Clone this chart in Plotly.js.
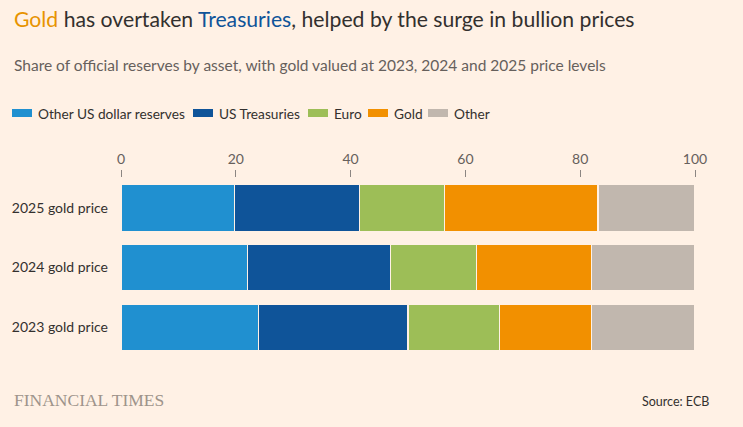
<!DOCTYPE html>
<html>
<head>
<meta charset="utf-8">
<script src="https://cdn.plot.ly/plotly-3.0.1.min.js"></script>
<style>
  html, body { margin: 0; padding: 0; background: #FFF1E5; }
  #chart { width: 743px; height: 427px; }
</style>
</head>
<body>
<div id="chart"></div>
<script>
// Share of official reserves by asset (%), gold valued at each year's price level
const categories = ['2025 gold price', '2024 gold price', '2023 gold price'];
const seriesNames = ['Other US dollar reserves', 'US Treasuries', 'Euro', 'Gold', 'Other'];
const otherUsd   = [19.8, 22.0, 24.0];
const treasuries = [21.8, 25.0, 26.0];
const euro       = [14.8, 15.0, 16.0];
const gold       = [26.7, 20.0, 16.0];
const other      = [16.9, 18.0, 18.0];
const tickVals   = [0, 20, 40, 60, 80, 100];

const seriesValues = [otherUsd, treasuries, euro, gold, other];
const colors = ['#2090D0', '#0F5499', '#9DBE57', '#F29000', '#C1B7AE'];
const bg = '#FFF1E5';
const font = 'Lato, "Noto Sans", sans-serif';

// Page geometry (px)
const W = 743, H = 427;
const M = { l: 121, r: 48, t: 178, b: 70 };
const plotW = W - M.l - M.r;
const plotH = H - M.t - M.b;
const toX = px => (px - M.l) / plotW;          // page x -> paper x
const toY = py => (H - M.b - py) / plotH;       // page y -> paper y

const traces = seriesNames.map((name, i) => ({
  type: 'bar',
  orientation: 'h',
  name: name,
  y: categories,
  x: seriesValues[i],
  marker: { color: colors[i], line: { color: bg, width: 1.2 } },
  hoverinfo: 'x+name'
}));

// Key row: colour swatch followed by the series name
const keyLeft = [12, 193, 308, 368, 428];
const keyShapes = seriesNames.map((name, i) => ({
  type: 'rect', xref: 'paper', yref: 'paper',
  x0: toX(keyLeft[i]), x1: toX(keyLeft[i] + 20),
  y0: toY(117), y1: toY(109),
  fillcolor: colors[i], line: { width: 0 }
}));
const keyLabels = seriesNames.map((name, i) => ({
  xref: 'paper', yref: 'paper',
  x: toX(keyLeft[i] + 23.5), y: toY(113),
  text: name, showarrow: false, xanchor: 'left', yanchor: 'middle',
  font: { size: 13.7, color: '#33302E', family: font }
}));

const layout = {
  width: W,
  height: H,
  paper_bgcolor: bg,
  plot_bgcolor: bg,
  barmode: 'stack',
  bargap: 0.22,
  margin: M,
  showlegend: false,
  font: { family: font, color: '#33302E' },
  xaxis: {
    side: 'top',
    range: [0, 100],
    tickvals: tickVals,
    ticks: 'outside',
    ticklen: 7,
    tickwidth: 1,
    tickcolor: '#8C8682',
    showgrid: false,
    zeroline: false,
    showline: false,
    automargin: false,
    tickfont: { size: 14, color: '#66605C', family: font },
    fixedrange: true
  },
  yaxis: {
    autorange: 'reversed',
    showgrid: false,
    zeroline: false,
    showline: false,
    automargin: false,
    ticks: '',
    ticklabelstandoff: 12,
    tickfont: { size: 14, color: '#33302E', family: font },
    fixedrange: true
  },
  shapes: keyShapes,
  annotations: [
    {
      xref: 'paper', yref: 'paper', x: toX(12), y: toY(19.5),
      text: '<span style="color:#E79300">Gold</span> has overtaken <span style="color:#0F5499">Treasuries</span>, helped by the surge in bullion prices',
      showarrow: false, xanchor: 'left', yanchor: 'middle',
      font: { size: 21.2, color: '#33302E', family: font }
    },
    {
      xref: 'paper', yref: 'paper', x: toX(12), y: toY(65),
      text: 'Share of official reserves by asset, with gold valued at 2023, 2024 and 2025 price levels',
      showarrow: false, xanchor: 'left', yanchor: 'middle',
      font: { size: 15.5, color: '#66605C', family: font }
    },
    {
      xref: 'paper', yref: 'paper', x: toX(12), y: toY(400),
      text: 'FINANCIAL TIMES',
      showarrow: false, xanchor: 'left', yanchor: 'middle',
      font: { size: 17.5, color: '#9E948B', family: '"Liberation Serif", "DejaVu Serif", serif' }
    },
    {
      xref: 'paper', yref: 'paper', x: toX(711), y: toY(401),
      text: 'Source: ECB',
      showarrow: false, xanchor: 'right', yanchor: 'middle',
      font: { size: 12.5, color: '#33302E', family: font }
    }
  ].concat(keyLabels)
};

Plotly.newPlot('chart', traces, layout, { displayModeBar: false, staticPlot: true });
</script>
</body>
</html>
